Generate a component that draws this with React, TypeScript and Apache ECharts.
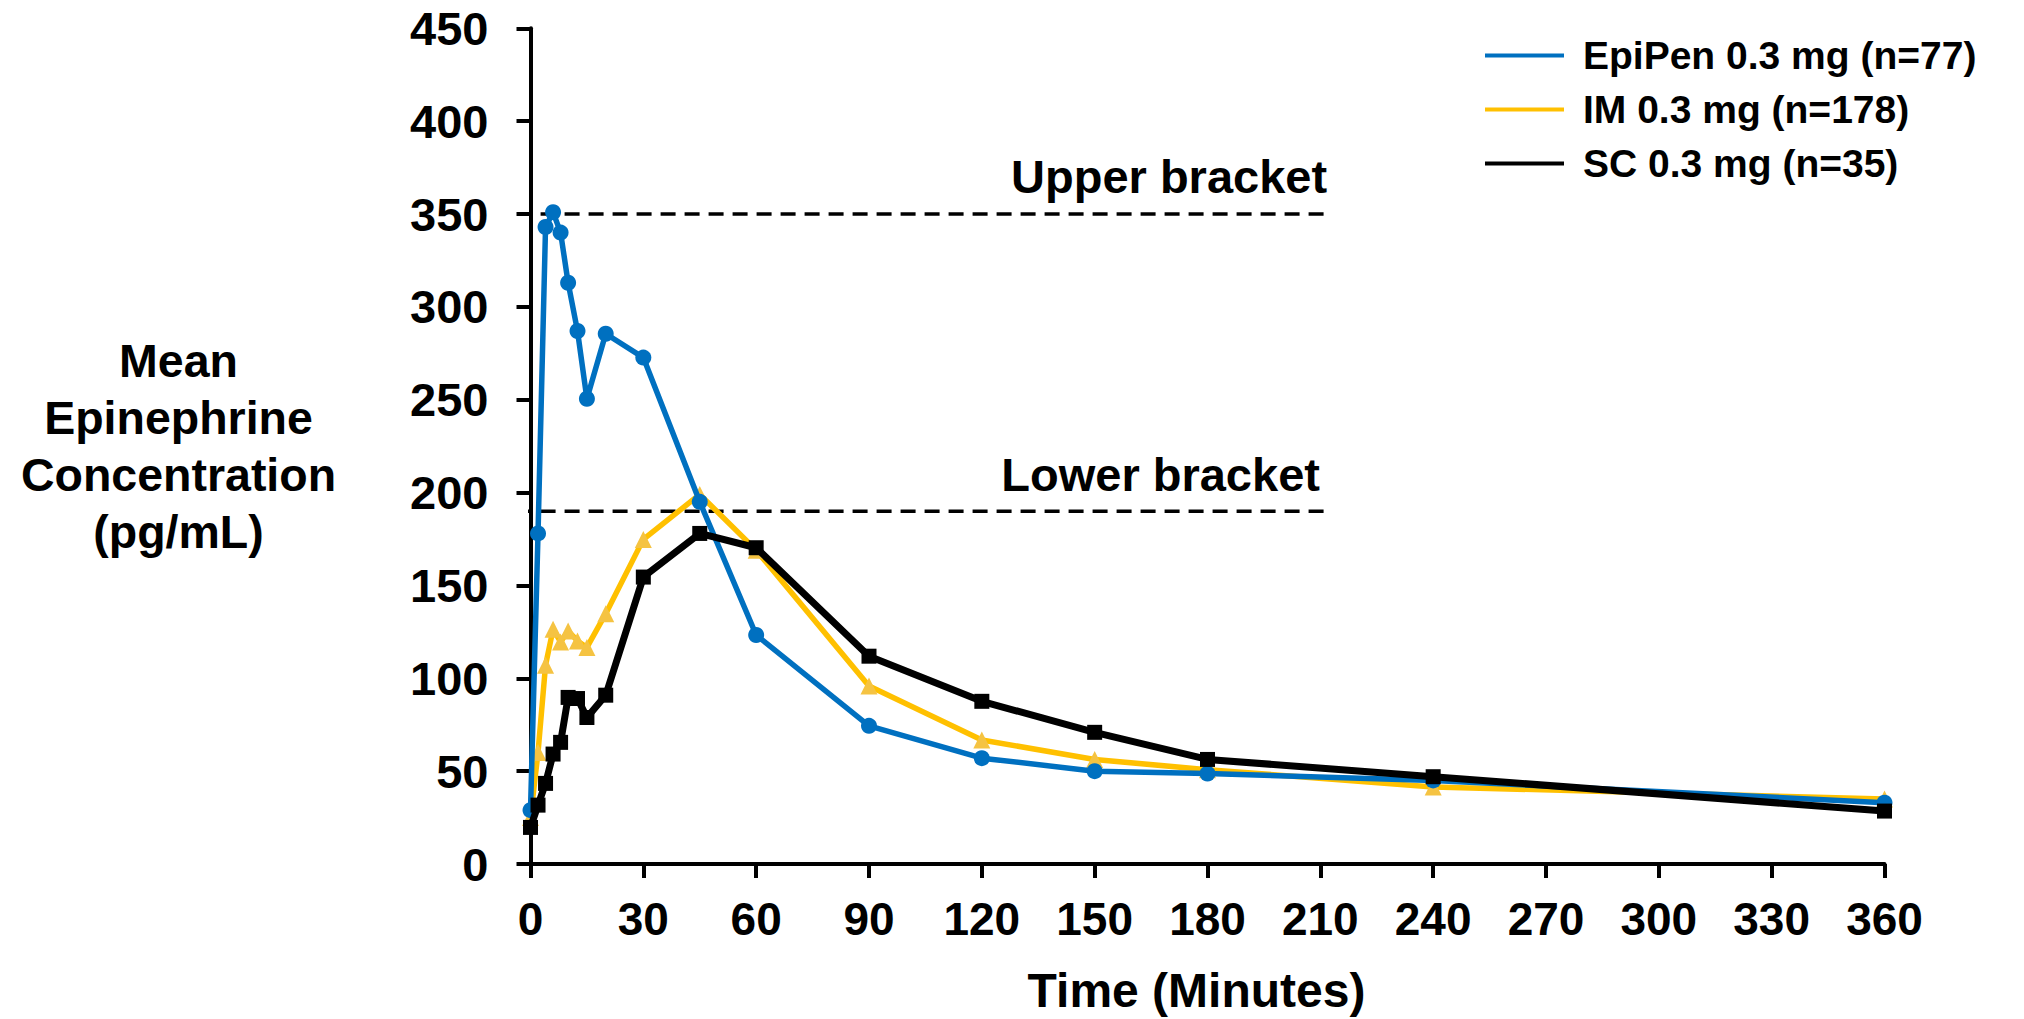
import React, { useEffect, useRef } from "react";
import * as echarts from "echarts";

const FONT = "'Liberation Sans', Arial, Helvetica, sans-serif";

// Sampling times (minutes)
const times = [0, 2, 4, 6, 8, 10, 12.5, 15, 20, 30, 45, 60, 90, 120, 150, 180, 240, 360];

// Mean epinephrine concentration (pg/mL)
const epipen = [29, 178, 343, 351, 340, 313, 287, 250.5, 285.5, 272.7, 195, 123.3, 74.4, 57, 50, 48.7, 45, 33];
const im = [25, 60, 107, 126.4, 119.6, 125.5, 120.1, 116.6, 134.8, 174.8, 199, 169, 95.9, 66.8, 56.3, 50.8, 41.5, 35];
const sc = [19.7, 31.7, 43.4, 59.2, 65.5, 89.7, 89.1, 78.9, 90.9, 154.5, 178, 170.3, 111.9, 87.6, 70.9, 56.3, 47, 28.5];

const seriesNames = ["EpiPen 0.3 mg (n=77)", "IM 0.3 mg (n=178)", "SC 0.3 mg (n=35)"];
const seriesColors = ["#0070C0", "#FFC000", "#000000"];

// Reference brackets
const bracketNames = ["Upper bracket", "Lower bracket"];
const bracketLevels = [350, 190];
const bracketSpan = [-3.7, 212.4];
const bracketLabelAt = [211.8, 209.9];

const xTicks = { min: 0, max: 360, interval: 30 };
const yTicks = { min: 0, max: 450, interval: 50 };

const pairs = (ys: number[]) => times.map((t, i) => [t, ys[i]]);

export default function App() {
  const ref = useRef<HTMLDivElement>(null);

  useEffect(() => {
    if (!ref.current) return;
    const chart = echarts.init(ref.current, null, { renderer: "svg" });

    const bracketSeries = bracketLevels.map((lvl, i) => ({
      type: "line",
      name: bracketNames[i],
      data: [
        [bracketSpan[0], lvl],
        [bracketSpan[1], lvl],
      ],
      symbol: "none",
      clip: false,
      silent: true,
      z: 1,
      lineStyle: { color: "#000", width: 3.5, type: [15, 9] },
      markPoint: {
        symbol: "circle",
        symbolSize: 0,
        silent: true,
        itemStyle: { color: "transparent" },
        label: {
          show: true,
          position: "top",
          distance: i === 0 ? 14 : 13,
          align: "right",
          formatter: bracketNames[i],
          fontSize: 47,
          fontWeight: "bold",
          fontFamily: FONT,
          color: "#000",
        },
        data: [{ coord: [bracketLabelAt[i], lvl] }],
      },
    }));

    const axisCommon = {
      type: "value",
      axisLine: { show: true, onZero: false, lineStyle: { color: "#000", width: 4 } },
      axisTick: { show: true, inside: false, length: 14, lineStyle: { color: "#000", width: 4 } },
      splitLine: { show: false },
    };

    const option: any = {
      animation: false,
      backgroundColor: "#ffffff",
      textStyle: { fontFamily: FONT, fontWeight: "bold", color: "#000" },
      grid: { left: 530.5, right: 139.5, top: 28.3, bottom: 154, containLabel: false },
      legend: {
        orient: "vertical",
        left: 1480,
        top: 31,
        icon: "rect",
        itemWidth: 79,
        itemHeight: 4,
        itemGap: 15,
        selectedMode: false,
        textStyle: {
          fontSize: 39,
          fontWeight: "bold",
          fontFamily: FONT,
          color: "#000",
          padding: [0, 0, 0, 14],
        },
        data: seriesNames.map((n, i) => ({ name: n, itemStyle: { color: seriesColors[i] } })),
      },
      xAxis: {
        ...axisCommon,
        min: xTicks.min,
        max: xTicks.max,
        interval: xTicks.interval,
        axisLabel: { fontSize: 46, margin: 32, color: "#000", fontWeight: "bold", fontFamily: FONT },
        name: "Time (Minutes)",
        nameLocation: "middle",
        nameGap: 102,
        nameTextStyle: {
          fontSize: 48,
          fontWeight: "bold",
          fontFamily: FONT,
          color: "#000",
          padding: [0, 22, 0, 0],
        },
      },
      yAxis: {
        ...axisCommon,
        min: yTicks.min,
        max: yTicks.max,
        interval: yTicks.interval,
        axisLabel: { fontSize: 47, margin: 42, color: "#000", fontWeight: "bold", fontFamily: FONT },
        name: "Mean\nEpinephrine\nConcentration\n(pg/mL)",
        nameLocation: "middle",
        nameRotate: 0,
        nameGap: 352,
        nameTextStyle: {
          fontSize: 46.5,
          lineHeight: 57,
          fontWeight: "bold",
          fontFamily: FONT,
          color: "#000",
          align: "center",
          verticalAlign: "middle",
        },
      },
      series: [
        ...bracketSeries,
        {
          type: "line",
          name: seriesNames[1],
          data: pairs(im),
          z: 2,
          symbol: "triangle",
          symbolSize: 17,
          lineStyle: { color: seriesColors[1], width: 5.5 },
          itemStyle: { color: "#F5C342" },
        },
        {
          type: "line",
          name: seriesNames[0],
          data: pairs(epipen),
          z: 3,
          symbol: "circle",
          symbolSize: 16,
          lineStyle: { color: seriesColors[0], width: 5.5 },
          itemStyle: { color: seriesColors[0] },
        },
        {
          type: "line",
          name: seriesNames[2],
          data: pairs(sc),
          z: 4,
          symbol: "rect",
          symbolSize: 15,
          lineStyle: { color: seriesColors[2], width: 7 },
          itemStyle: { color: seriesColors[2] },
        },
      ],
    };

    chart.setOption(option);
    return () => chart.dispose();
  }, []);

  return (
    <div
      ref={ref}
      style={{ position: "fixed", left: 0, top: 0, width: 2024, height: 1019, background: "#fff" }}
    />
  );
}
